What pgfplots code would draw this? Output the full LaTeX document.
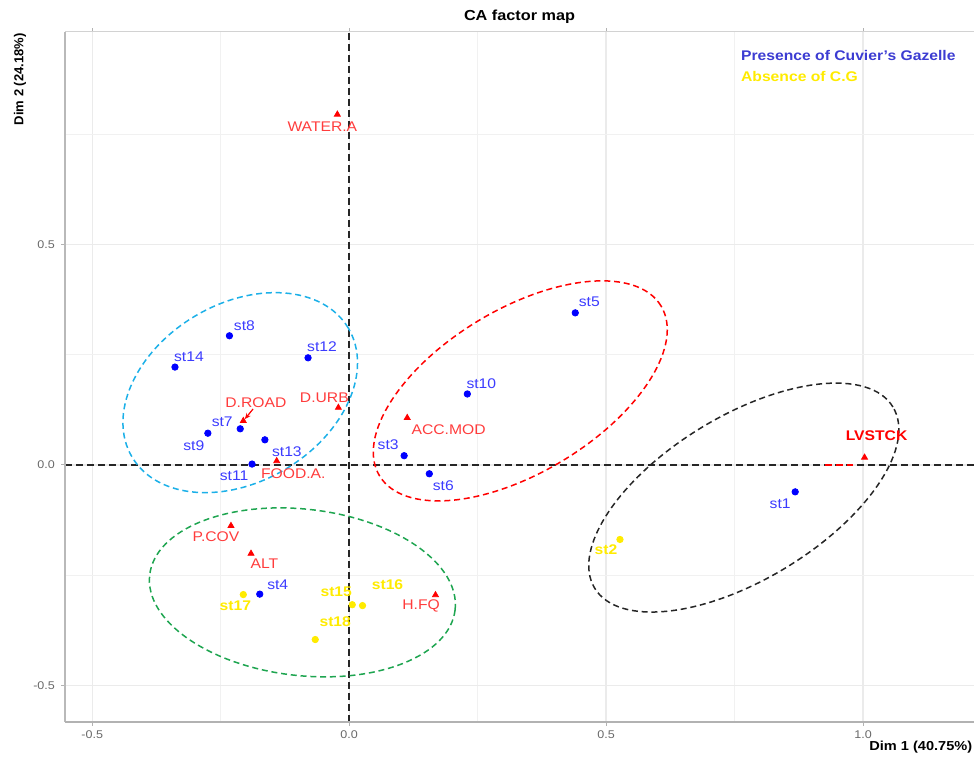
\documentclass[border=0pt]{standalone}
\usepackage{fontspec}
\setmainfont{Liberation Sans}[FakeStretch=1.12]
\newfontfamily\plainfont{Liberation Sans}
\usepackage{pgfplots}
\pgfplotsset{compat=1.18}
\usepackage{pgfplotstable}
\usetikzlibrary{arrows.meta}

\definecolor{bluept}{RGB}{0,0,255}
\definecolor{bluelab}{RGB}{60,60,255}
\definecolor{redlab}{RGB}{255,60,60}
\definecolor{yellowpt}{RGB}{255,235,0}
\definecolor{legblue}{RGB}{60,60,210}
\definecolor{cyanE}{RGB}{28,176,232}
\definecolor{greenE}{RGB}{30,165,80}
\definecolor{tickgray}{RGB}{105,105,105}

\newcommand{\labfont}{\fontsize{7}{8}\selectfont}
\tikzset{
  bl/.style={text=bluelab, font=\labfont, inner sep=0pt},
  yl/.style={text=yellowpt, font=\labfont\bfseries, inner sep=0pt},
  rl/.style={text=redlab, font=\labfont, inner sep=0pt},
  zl/.style={black!85, line width=0.75pt, dash pattern=on 3.3pt off 2.2pt},
  el/.style={line width=0.75pt, dash pattern=on 3pt off 1.9pt},
}

\pgfplotstableread{
x y
0.868 -0.061
0.107 0.021
-0.174 -0.293
0.440 0.345
0.156 -0.020
-0.212 0.082
-0.233 0.293
-0.275 0.072
0.230 0.161
-0.189 0.002
-0.080 0.243
-0.164 0.057
-0.339 0.222
}\presence

\pgfplotstableread{
x y
0.527 -0.169
0.006 -0.317
0.026 -0.319
-0.206 -0.294
-0.066 -0.396
}\absence

\pgfplotstableread{
x y
-0.023 0.795
-0.206 0.100
-0.021 0.130
-0.141 0.009
0.113 0.107
1.003 0.017
-0.230 -0.138
-0.191 -0.201
0.168 -0.295
}\variables

\begin{document}
\begin{tikzpicture}
\begin{axis}[
  at={(0pt,0pt)}, anchor=south west,
  width=454.5pt, height=345pt, scale only axis,
  xmin=-0.553, xmax=1.216, ymin=-0.583, ymax=0.982,
  xtick={-0.5,0,0.5,1}, ytick={-0.5,0,0.5},
  minor xtick={-0.25,0.25,0.75}, minor ytick={-0.25,0.25,0.75},
  grid=both,
  major grid style={gray!16, line width=0.6pt},
  minor grid style={gray!11, line width=0.45pt},
  axis line style={draw=none},
  tick align=outside, major tick length=1.8pt, minor tick length=0pt,
  tick style={gray!60, line width=0.5pt},
  xticklabel style={font=\fontsize{5.6}{6.5}\selectfont, text=tickgray, yshift=0.8pt},
  yticklabel style={font=\fontsize{5.6}{6.5}\selectfont, text=tickgray, xshift=0.3pt},
  xticklabel={\pgfmathprintnumber[fixed,fixed zerofill,precision=1,assume math mode=true]{\tick}},
  yticklabel={\pgfmathprintnumber[fixed,fixed zerofill,precision=1,assume math mode=true]{\tick}},
  clip=false,
]
% zero lines
\draw[zl] (axis cs:0,-0.583) -- (axis cs:0,0.982);
\draw[zl] (axis cs:-0.553,0) -- (axis cs:1.216,0);
\draw[zl, red] (axis cs:0.926,0) -- (axis cs:0.981,0);

% ellipses
\draw[el, cyanE, rotate around={30.9:(axis cs:-0.212,0.164)}]
  (axis cs:-0.212,0.164) ellipse [x radius=62.95pt, y radius=44.45pt];
\draw[el, red, rotate around={31.1:(axis cs:0.333,0.168)}]
  (axis cs:0.333,0.168) ellipse [x radius=82.2pt, y radius=40.85pt];
\draw[el, black!85, rotate around={31.3:(axis cs:0.768,-0.074)}]
  (axis cs:0.768,-0.074) ellipse [x radius=87.25pt, y radius=40.9pt];
\draw[el, greenE, rotate around={-6.5:(axis cs:-0.091,-0.289)}]
  (axis cs:-0.091,-0.289) ellipse [x radius=76.85pt, y radius=41.6pt];

% D.ROAD repel arrow
\draw[red, line width=0.6pt, -{Stealth[length=3pt,width=2.5pt]}] (axis cs:-0.187,0.127) -- (axis cs:-0.203,0.104);

\addplot[only marks, mark=*, mark size=1.6pt, color=bluept] table[x=x, y=y] {\presence};
\addplot[only marks, mark=*, mark size=1.6pt, color=yellowpt] table[x=x, y=y] {\absence};
\addplot[only marks, mark=triangle*, mark size=1.7pt, color=red] table[x=x, y=y] {\variables};

% labels (presence)
\node[bl, xshift=-7.5pt, yshift=-6pt] at (axis cs:0.868,-0.061) {st1};
\node[bl, xshift=-8pt, yshift=5.5pt] at (axis cs:0.107,0.021) {st3};
\node[bl, xshift=9pt, yshift=4.5pt] at (axis cs:-0.174,-0.293) {st4};
\node[bl, xshift=7pt, yshift=5.5pt] at (axis cs:0.440,0.345) {st5};
\node[bl, xshift=7pt, yshift=-5.8pt] at (axis cs:0.156,-0.020) {st6};
\node[bl, xshift=-9pt, yshift=3.5pt] at (axis cs:-0.212,0.082) {st7};
\node[bl, xshift=7.5pt, yshift=5pt] at (axis cs:-0.233,0.293) {st8};
\node[bl, xshift=-7pt, yshift=-6pt] at (axis cs:-0.275,0.072) {st9};
\node[bl, xshift=7pt, yshift=5pt] at (axis cs:0.230,0.161) {st10};
\node[bl, xshift=-9pt, yshift=-6pt] at (axis cs:-0.189,0.002) {st11};
\node[bl, xshift=7pt, yshift=5.5pt] at (axis cs:-0.080,0.243) {st12};
\node[bl, xshift=11pt, yshift=-6pt] at (axis cs:-0.164,0.057) {st13};
\node[bl, xshift=7pt, yshift=5pt] at (axis cs:-0.339,0.222) {st14};
% labels (absence)
\node[yl, xshift=-7pt, yshift=-5pt] at (axis cs:0.527,-0.169) {st2};
\node[yl, xshift=-8pt, yshift=6.7pt] at (axis cs:0.006,-0.317) {st15};
\node[yl, xshift=12.5pt, yshift=10.3pt] at (axis cs:0.026,-0.319) {st16};
\node[yl, xshift=-4pt, yshift=-5.7pt] at (axis cs:-0.206,-0.294) {st17};
\node[yl, xshift=10pt, yshift=8.8pt] at (axis cs:-0.066,-0.396) {st18};
% labels (variables)
\node[rl, xshift=-7.5pt, yshift=-6pt] at (axis cs:-0.023,0.795) {WATER.A};
\node[rl, xshift=6.3pt, yshift=9.2pt] at (axis cs:-0.206,0.100) {D.ROAD};
\node[rl, xshift=-7pt, yshift=5pt] at (axis cs:-0.021,0.130) {D.URB};
\node[rl, xshift=8.3pt, yshift=-6.2pt] at (axis cs:-0.141,0.009) {FOOD.A.};
\node[rl, xshift=20.7pt, yshift=-5.8pt] at (axis cs:0.113,0.107) {ACC.MOD};
\node[rl, text=red, font=\labfont\bfseries, xshift=6pt, yshift=11pt] at (axis cs:1.003,0.017) {LVSTCK};
\node[rl, xshift=-7.5pt, yshift=-5.5pt] at (axis cs:-0.230,-0.138) {P.COV};
\node[rl, xshift=6.7pt, yshift=-5.2pt] at (axis cs:-0.191,-0.201) {ALT};
\node[rl, xshift=-7.2pt, yshift=-5.5pt] at (axis cs:0.168,-0.295) {H.FQ};

% legend texts
\node[anchor=base west, text=legblue, font=\fontsize{7}{8}\selectfont\bfseries, inner sep=0pt] at (axis cs:0.762,0.918) {Presence of Cuvier's Gazelle};
\node[anchor=base west, text=yellowpt, font=\fontsize{7}{8}\selectfont\bfseries, inner sep=0pt] at (axis cs:0.762,0.869) {Absence of C.G};

% panel border
\draw[gray!35, line width=0.5pt] (rel axis cs:0,1) -- (rel axis cs:1,1);
\draw[gray!55, line width=0.6pt] (rel axis cs:0,1) -- (rel axis cs:0,0);
\draw[gray!60, line width=0.9pt] (rel axis cs:0,0) -- (rel axis cs:1,0);
\end{axis}

% titles
\node[font=\fontsize{7.25}{8}\selectfont\bfseries, inner sep=0pt] at (227.25pt,352.5pt) {CA factor map};
\node[font=\fontsize{6.5}{7}\selectfont\bfseries, inner sep=0pt, anchor=east] at (453.8pt,-12.75pt) {Dim 1 (40.75\%)};
\node[font=\plainfont\fontsize{6.5}{7}\selectfont\bfseries, inner sep=0pt, rotate=90, anchor=east] at (-22.5pt,344.5pt) {Dim 2 (24.18\%)};

\pgfresetboundingbox
\useasboundingbox (-32.5pt,-18pt) rectangle (454.5pt,361pt);
\end{tikzpicture}
\end{document}
